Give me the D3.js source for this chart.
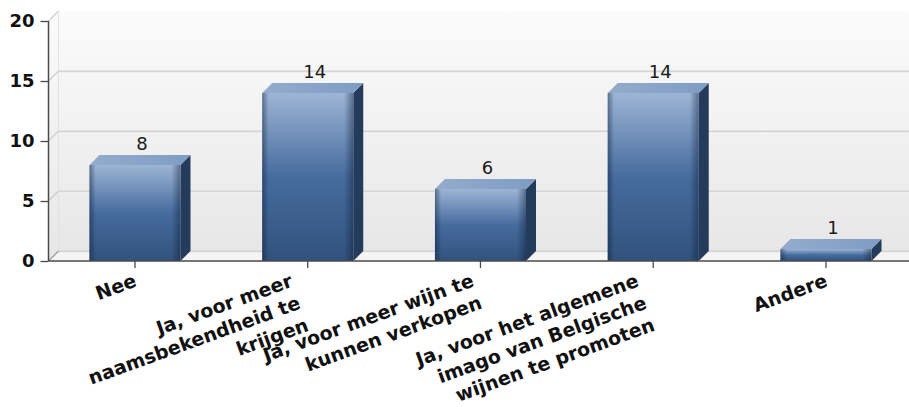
<!DOCTYPE html>
<html>
<head>
<meta charset="utf-8">
<script src="https://cdn.jsdelivr.net/npm/d3@7"></script>
<style>
  html, body { margin: 0; padding: 0; background: #ffffff; }
  svg { display: block; }
</style>
</head>
<body>
<svg id="chart" width="909" height="407"></svg>
<script>
// Survey answers and their counts
const categories = [
  ["Nee"],
  ["Ja, voor meer", "naamsbekendheid te", "krijgen"],
  ["Ja, voor meer wijn te", "kunnen verkopen"],
  ["Ja, voor het algemene", "imago van Belgische", "wijnen te promoten"],
  ["Andere"]
];
const counts = [8, 14, 6, 14, 1];
const yTicks = [0, 5, 10, 15, 20];

const W = 909, H = 407;
const axisX = 48.5, plotRight = 909;
const baseY = 261, topY = 21;
const dx = 10, dy = 10;               // depth of the 3D effect

const svg = d3.select("#chart");
const defs = svg.append("defs");

const keys = categories.map(c => c.join(" "));
const x = d3.scaleBand()
  .domain(keys)
  .range([48.6, 912.35])
  .paddingInner(0.473)
  .paddingOuter(0.2365);
const y = d3.scaleLinear().domain([0, 20]).range([baseY, topY]);

// gradients
const wallGrad = defs.append("linearGradient").attr("id", "wall")
  .attr("x1", 0).attr("y1", 0).attr("x2", 0).attr("y2", 1);
wallGrad.append("stop").attr("offset", "0%").attr("stop-color", "#fbfbfb");
wallGrad.append("stop").attr("offset", "100%").attr("stop-color", "#e7e7e7");

const frontGrad = defs.append("linearGradient").attr("id", "front")
  .attr("x1", 0).attr("y1", 0).attr("x2", 0).attr("y2", 1);
frontGrad.append("stop").attr("offset", "0%").attr("stop-color", "#9db5d5");
frontGrad.append("stop").attr("offset", "50%").attr("stop-color", "#466b9e");
frontGrad.append("stop").attr("offset", "100%").attr("stop-color", "#31527c");

const edgeGrad = defs.append("linearGradient").attr("id", "edge")
  .attr("x1", 0).attr("y1", 0).attr("x2", 1).attr("y2", 0);
edgeGrad.append("stop").attr("offset", "0%").attr("stop-color", "#0b1a33").attr("stop-opacity", 0.45);
edgeGrad.append("stop").attr("offset", "7%").attr("stop-color", "#0b1a33").attr("stop-opacity", 0);
edgeGrad.append("stop").attr("offset", "90%").attr("stop-color", "#0b1a33").attr("stop-opacity", 0);
edgeGrad.append("stop").attr("offset", "100%").attr("stop-color", "#0b1a33").attr("stop-opacity", 0.45);

const topGrad = defs.append("linearGradient").attr("id", "topface")
  .attr("x1", 0).attr("y1", 0).attr("x2", 1).attr("y2", 0);
topGrad.append("stop").attr("offset", "0%").attr("stop-color", "#93accd");
topGrad.append("stop").attr("offset", "100%").attr("stop-color", "#7f9cc3");

// back wall, side wall and floor
svg.append("rect")
  .attr("x", axisX + dx).attr("y", topY - dy)
  .attr("width", plotRight - axisX - dx).attr("height", baseY - topY)
  .attr("fill", "url(#wall)");
svg.append("path")
  .attr("d", `M${axisX},${topY}L${axisX + dx},${topY - dy}L${axisX + dx},${baseY - dy}L${axisX},${baseY}Z`)
  .attr("fill", "url(#wall)");
svg.append("path")
  .attr("d", `M${axisX},${baseY}L${axisX + dx},${baseY - dy}L${plotRight},${baseY - dy}L${plotRight},${baseY}Z`)
  .attr("fill", "#f5f5f5");
svg.append("line")
  .attr("x1", axisX + dx).attr("x2", axisX + dx)
  .attr("y1", topY - dy).attr("y2", baseY - dy)
  .attr("stroke", "#e2e2e2").attr("stroke-width", 1);

// gridlines on the back wall plus the diagonals on the side wall
const grid = svg.append("g");
yTicks.filter(v => v < 20).forEach(v => {
  const yy = y(v);
  grid.append("line")
    .attr("x1", axisX + dx).attr("x2", plotRight)
    .attr("y1", yy - dy + 0.5).attr("y2", yy - dy + 0.5)
    .attr("stroke", "#d4d4d4").attr("stroke-width", 2);
  grid.append("line")
    .attr("x1", axisX + dx).attr("x2", plotRight)
    .attr("y1", yy - dy + 2).attr("y2", yy - dy + 2)
    .attr("stroke", "#f8f8f8").attr("stroke-width", 1);
});
yTicks.forEach(v => {
  const yy = y(v);
  grid.append("line")
    .attr("x1", axisX).attr("y1", yy)
    .attr("x2", axisX + dx).attr("y2", yy - dy)
    .attr("stroke", v === 0 ? "#9a9a9a" : "#cfcfcf").attr("stroke-width", 1.2);
});

// bars
const bars = svg.append("g");
keys.forEach((k, i) => {
  const v = counts[i];
  const x0 = x(k), x1 = x(k) + x.bandwidth();
  const yv = y(v);
  const g = bars.append("g");
  // side face
  g.append("path")
    .attr("d", `M${x1},${yv}L${x1 + dx},${yv - dy}L${x1 + dx},${baseY - dy}L${x1},${baseY}Z`)
    .attr("fill", "#243b5c");
  // top face
  g.append("path")
    .attr("d", `M${x0},${yv}L${x0 + dx},${yv - dy}L${x1 + dx},${yv - dy}L${x1},${yv}Z`)
    .attr("fill", "url(#topface)");
  // front face
  g.append("rect")
    .attr("x", x0).attr("y", yv)
    .attr("width", x.bandwidth()).attr("height", baseY - yv)
    .attr("fill", "url(#front)");
  g.append("rect")
    .attr("x", x0).attr("y", yv)
    .attr("width", x.bandwidth()).attr("height", baseY - yv)
    .attr("fill", "url(#edge)");
  // value label
  svg.append("text")
    .attr("x", x0 + x.bandwidth() / 2 + 7)
    .attr("y", yv - dy - 5)
    .attr("text-anchor", "middle")
    .attr("font-family", "DejaVu Sans")
    .attr("font-size", 18)
    .attr("fill", "#1a1a1a")
    .text(v);
});

// y axis
const yAxis = d3.axisLeft(y).tickValues(yTicks).tickSize(8).tickPadding(6);
const yg = svg.append("g").attr("transform", `translate(${axisX},0)`).call(yAxis);
yg.select(".domain").attr("stroke", "#4a4a4a").attr("stroke-width", 1.5)
  .attr("d", `M0,${topY}V${baseY}`);
yg.selectAll(".tick line").attr("stroke", "#4a4a4a").attr("stroke-width", 1.3);
yg.selectAll(".tick text")
  .attr("font-family", "DejaVu Sans").attr("font-weight", "bold")
  .attr("font-size", 18).attr("fill", "#111");

// x axis
const xAxis = d3.axisBottom(x).tickSize(7).tickFormat(() => "");
const xg = svg.append("g").attr("transform", `translate(0,${baseY})`).call(xAxis);
xg.select(".domain").attr("stroke", "#4a4a4a").attr("stroke-width", 1.5)
  .attr("d", `M${axisX},0H${plotRight}`);
xg.selectAll(".tick line").attr("stroke", "#4a4a4a").attr("stroke-width", 1.3);

// rotated multi-line category labels, right edge aligned to the tick
const lh = 23.5;
keys.forEach((k, i) => {
  const cx = x(k) + x.bandwidth() / 2;
  const outer = svg.append("g");
  const t = outer.append("text")
    .attr("transform", "rotate(-20)")
    .attr("text-anchor", "end")
    .attr("font-family", "DejaVu Sans").attr("font-weight", "bold")
    .attr("font-size", 19).attr("fill", "#111");
  categories[i].forEach((line, j) => {
    t.append("tspan").attr("x", 0).attr("y", j * lh).text(line);
  });
  const r = t.node().getBoundingClientRect();
  outer.attr("transform", `translate(${cx + 4 - r.right},${269 - r.top})`);
});
</script>
</body>
</html>
